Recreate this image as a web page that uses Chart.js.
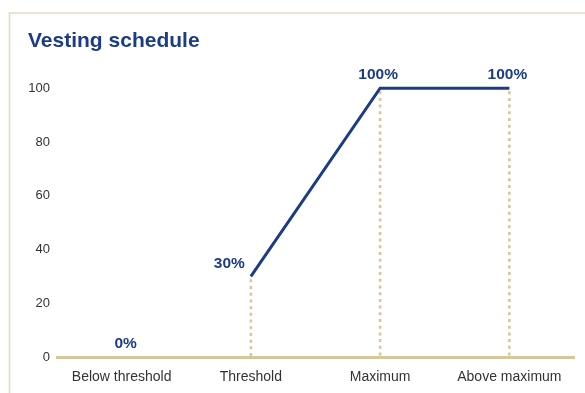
<!DOCTYPE html>
<html>
<head>
<meta charset="utf-8">
<title>Vesting schedule</title>
<script src="https://cdn.jsdelivr.net/npm/chart.js@4/dist/chart.umd.min.js"></script>
<style>
  html, body { margin: 0; padding: 0; background: #ffffff; }
  #wrap { position: relative; width: 585px; height: 393px; }
</style>
</head>
<body>
<div id="wrap"><canvas id="chart" width="585" height="393"></canvas></div>
<script>
// Vesting levels per performance outcome (percent of award)
const categories = ['Below threshold', 'Threshold', 'Maximum', 'Above maximum'];
const vestingPct = [0, 30, 100, 100];
const yTickValues = [0, 20, 40, 60, 80, 100];

const NAVY = '#1d3c87';
const TAN = '#d7c699';
const FRAME = '#e4dbc2';
const TEXT = '#333333';

// Light frame along the top and left edges of the panel
const framePlugin = {
  id: 'frame',
  beforeDraw(chart) {
    const ctx = chart.ctx;
    ctx.save();
    ctx.strokeStyle = FRAME;
    ctx.lineWidth = 1.6;
    ctx.beginPath();
    ctx.moveTo(9.5, chart.height);
    ctx.lineTo(9.5, 13);
    ctx.lineTo(chart.width, 13);
    ctx.stroke();
    ctx.restore();
  }
};

// Dotted drop lines from each vesting point down to the axis
const dropLinePlugin = {
  id: 'dropLines',
  beforeDatasetsDraw(chart) {
    const ctx = chart.ctx;
    const meta = chart.getDatasetMeta(0);
    const yScale = chart.scales.y;
    const base = yScale.getPixelForValue(0);
    ctx.save();
    ctx.strokeStyle = TAN;
    ctx.lineWidth = 2.6;
    ctx.setLineDash([3, 3.7]);
    meta.data.forEach((pt, i) => {
      if (vestingPct[i] > 0) {
        ctx.beginPath();
        ctx.moveTo(pt.x, pt.y + 3);
        ctx.lineTo(pt.x, base - 1);
        ctx.stroke();
      }
    });
    ctx.restore();
  }
};

// Percentage labels next to each point
const valueLabelPlugin = {
  id: 'valueLabels',
  afterDatasetsDraw(chart) {
    const ctx = chart.ctx;
    const meta = chart.getDatasetMeta(0);
    ctx.save();
    ctx.fillStyle = NAVY;
    ctx.font = 'bold 15.5px "Liberation Sans", Arial, sans-serif';
    ctx.textBaseline = 'middle';
    meta.data.forEach((pt, i) => {
      const text = vestingPct[i] + '%';
      if (i === 1) {
        // threshold label sits up and to the left of the line start
        ctx.textAlign = 'right';
        ctx.fillText(text, pt.x - 6, pt.y - 13);
      } else if (i === 0) {
        ctx.textAlign = 'center';
        ctx.fillText(text, pt.x + 4, pt.y - 13);
      } else {
        ctx.textAlign = 'center';
        ctx.fillText(text, pt.x - 2, pt.y - 13);
      }
    });
    ctx.restore();
  }
};

new Chart(document.getElementById('chart'), {
  type: 'line',
  data: {
    labels: categories,
    datasets: [{
      data: vestingPct,
      borderColor: NAVY,
      borderWidth: 3,
      pointRadius: 0,
      pointHoverRadius: 0,
      fill: false,
      tension: 0,
      clip: false,
      borderJoinStyle: 'miter',
      segment: {
        // no connecting segment between "below threshold" and "threshold"
        borderColor: ctx => ctx.p0DataIndex === 0 ? 'rgba(0,0,0,0)' : NAVY
      }
    }]
  },
  options: {
    responsive: false,
    animation: false,
    events: [],
    layout: { padding: { top: 0, left: 28, right: 11, bottom: 0 } },
    plugins: {
      legend: { display: false },
      tooltip: { enabled: false },
      title: {
        display: true,
        text: 'Vesting schedule',
        align: 'start',
        color: NAVY,
        font: { family: '"Liberation Sans", Arial, sans-serif', size: 21, weight: 'bold' },
        padding: { top: 29, bottom: 34 }
      }
    },
    scales: {
      x: {
        offset: true,
        grid: { display: false, drawTicks: false },
        border: { display: true, color: TAN, width: 3 },
        afterFit: scale => { scale.height = 36; },
        ticks: {
          color: TEXT,
          padding: 12,
          maxRotation: 0,
          font: { family: '"Liberation Sans", Arial, sans-serif', size: 14 }
        }
      },
      y: {
        min: 0,
        max: 100,
        afterBuildTicks: scale => { scale.ticks = yTickValues.map(v => ({ value: v })); },
        afterFit: scale => { scale.width = 29; },
        grid: { display: false, drawTicks: false },
        border: { display: false },
        ticks: {
          color: TEXT,
          padding: 7,
          font: { family: '"Liberation Sans", Arial, sans-serif', size: 13 }
        }
      }
    }
  },
  plugins: [framePlugin, dropLinePlugin, valueLabelPlugin]
});
</script>
</body>
</html>
